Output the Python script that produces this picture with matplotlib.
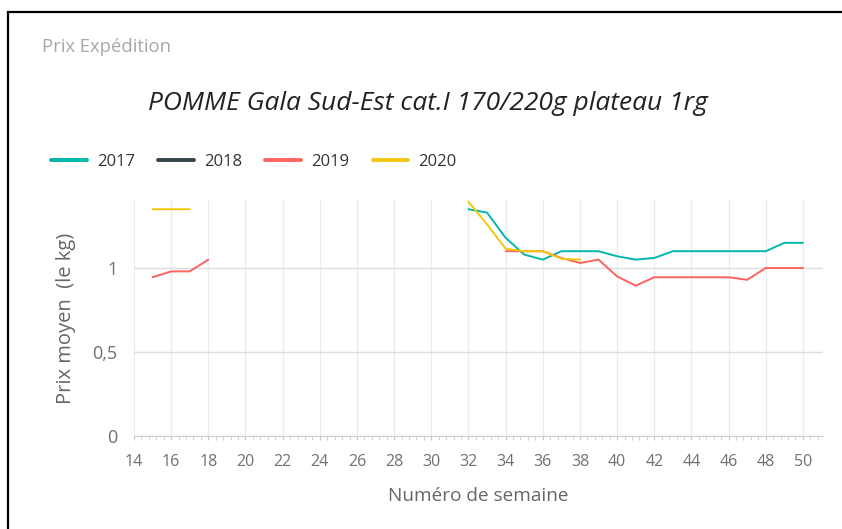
import matplotlib
matplotlib.use("Agg")
import matplotlib.pyplot as plt
from matplotlib.patches import Rectangle
from matplotlib.ticker import MultipleLocator, FuncFormatter
import numpy as np

plt.rcParams['font.family'] = ['Open Sans', 'DejaVu Sans']

# week numbers and average price (EUR / kg), NaN = no quotation
weeks = list(range(14, 51))

p2017 = {32: 1.35, 33: 1.33, 34: 1.18, 35: 1.08, 36: 1.05, 37: 1.10, 38: 1.10,
         39: 1.10, 40: 1.07, 41: 1.05, 42: 1.06, 43: 1.10, 44: 1.10, 45: 1.10,
         46: 1.10, 47: 1.10, 48: 1.10, 49: 1.15, 50: 1.15}
p2018 = {}
p2019 = {15: 0.945, 16: 0.98, 17: 0.98, 18: 1.05,
         34: 1.10, 35: 1.10, 36: 1.10, 37: 1.06, 38: 1.03, 39: 1.05, 40: 0.95,
         41: 0.895, 42: 0.945, 43: 0.945, 44: 0.945, 45: 0.945, 46: 0.945,
         47: 0.93, 48: 1.00, 49: 1.00, 50: 1.00}
p2020 = {15: 1.35, 16: 1.35, 17: 1.35,
         32: 1.395, 33: 1.26, 34: 1.115, 35: 1.10, 36: 1.10, 37: 1.055, 38: 1.05}

series = [("2017", p2017, "#01B8AA"), ("2018", p2018, "#374649"),
          ("2019", p2019, "#FD625E"), ("2020", p2020, "#F2C80F")]

fig = plt.figure(figsize=(8.42, 5.29), dpi=100)
ax = fig.add_axes([134 / 842, 1 - 436 / 529, (823 - 134) / 842, (436 - 200) / 529])

for name, vals, col in series:
    y = np.array([vals.get(w, np.nan) for w in weeks])
    ax.plot(weeks, y, color=col, lw=1.4, label=name, solid_capstyle='round')

ax.set_xlim(14, 51.08)
ax.set_ylim(0, 1.405)
ax.xaxis.set_major_locator(MultipleLocator(2))
ax.xaxis.set_minor_locator(MultipleLocator(0.4))
ax.yaxis.set_major_locator(MultipleLocator(0.5))
ax.yaxis.set_major_formatter(FuncFormatter(lambda v, p: f"{v:g}".replace(".", ",")))

ax.grid(axis='x', which='major', color='#ececec', lw=1)
ax.grid(axis='y', color='#dedede', lw=1)
ax.set_axisbelow(True)
for s in ['top', 'right', 'left']:
    ax.spines[s].set_visible(False)
ax.spines['bottom'].set_color('#d0d0d0')

ax.tick_params(axis='x', which='both', length=3, color='#c8c8c8', labelsize=11.5,
               labelcolor='#707070', pad=10)
ax.tick_params(axis='y', length=0, labelsize=13, labelcolor='#707070', pad=12)

ax.set_xlabel("Numéro de semaine", fontsize=13.7, color='#666666', labelpad=12)
ax.set_ylabel("Prix moyen  (le kg)", fontsize=14.5, color='#666666', labelpad=12)

fig.text(42 / 842, 1 - 47 / 529, "Prix Expédition", fontsize=13.3, color='#a8a8a8',
         va='center', ha='left')
fig.text(428 / 842, 1 - 104 / 529, "POMME Gala Sud-Est cat.I 170/220g plateau 1rg",
         fontsize=19, style='italic', color='#222222', ha='center', va='center')

leg = ax.legend(loc='center left', bbox_to_anchor=(51 / 842, 1 - 162 / 529),
                bbox_transform=fig.transFigure, ncol=4, frameon=False,
                fontsize=12, handlelength=2.15, handletextpad=0.6,
                columnspacing=1.4, borderpad=0, borderaxespad=0)
for line in leg.get_lines():
    line.set_linewidth(2.8)
for t in leg.get_texts():
    t.set_color('#333333')

# frame edge visible at the top and left of the screenshot
fig.patches.append(Rectangle((8 / 842, -0.1), 1.2, 1 - 12 / 529 + 0.1,
                             transform=fig.transFigure, fill=False,
                             edgecolor='black', lw=1.6, clip_on=False))

fig.savefig("out.png", dpi=100)
